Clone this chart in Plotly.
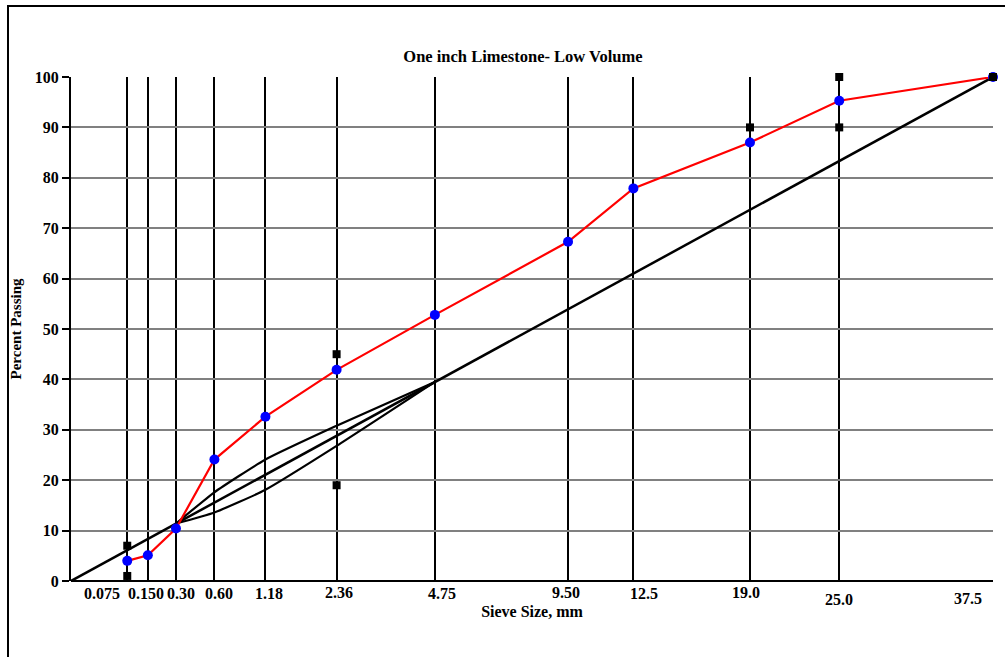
import plotly.graph_objects as go

# Sieve sizes (mm) and tick labels
sieves = [0.075, 0.15, 0.3, 0.6, 1.18, 2.36, 4.75, 9.5, 12.5, 19.0, 25.0, 37.5]
sieve_labels = ["0.075", "0.150", "0.30", "0.60", "1.18", "2.36", "4.75",
                "9.50", "12.5", "19.0", "25.0", "37.5"]

# Blend gradation, percent passing
blend_passing = [4.0, 5.1, 10.4, 24.1, 32.6, 41.9, 52.8, 67.3, 77.9, 87.0, 95.3, 100.0]

# Control points
ctrl_sieves = [0.075, 0.075, 2.36, 2.36, 19.0, 25.0, 25.0, 37.5]
ctrl_passing = [1, 7, 19, 45, 90, 90, 100, 100]

# Restricted zone boundaries
rz_sieves = [0.3, 0.6, 1.18, 2.36, 4.75]
rz_upper = [11.4, 17.6, 24.1, 30.8, 39.5]
rz_lower = [11.4, 13.6, 18.1, 26.8, 39.5]

# Maximum density line
mdl_sieves = [0.0, 37.5]
mdl_passing = [0, 100]

POWER = 0.45


def p45(vals):
    return [v ** POWER for v in vals]


# label nudges (px) for the sieve-size captions
label_dx = [-25, -2, 5, 5, 4, 2, 7, -2, 11, -4, 0, -25]
label_dy = [-2, -2, -2, -2, -2, -1, -2, -1, -2, -1, -8, -7]

BOLD = dict(family="Liberation Serif", color="black", weight="bold")

fig = go.Figure()

fig.add_trace(go.Scatter(
    x=p45(mdl_sieves), y=mdl_passing, mode="lines",
    line=dict(color="black", width=2.5), showlegend=False, hoverinfo="skip",
    cliponaxis=False))

for ys in (rz_upper, rz_lower):
    fig.add_trace(go.Scatter(
        x=p45(rz_sieves), y=ys, mode="lines",
        line=dict(color="black", width=2.2, shape="spline", smoothing=0.5),
        showlegend=False, hoverinfo="skip"))

fig.add_trace(go.Scatter(
    x=p45(sieves), y=blend_passing, mode="lines+markers",
    line=dict(color="red", width=2.2),
    marker=dict(symbol="circle", size=10, color="blue"),
    showlegend=False, cliponaxis=False))

fig.add_trace(go.Scatter(
    x=p45(ctrl_sieves), y=ctrl_passing, mode="markers",
    marker=dict(symbol="square", size=8, color="black"),
    showlegend=False, cliponaxis=False))

xmax = 37.5 ** POWER

annotations = []
for s, lab, dx, dy in zip(sieves, sieve_labels, label_dx, label_dy):
    annotations.append(dict(
        x=s ** POWER, y=0, xref="x", yref="paper", text="<b>" + lab + "</b>",
        showarrow=False, xanchor="center", yanchor="top",
        xshift=dx, yshift=dy,
        font=dict(family="Liberation Serif", size=16, color="black")))

fig.update_layout(
    width=1005, height=657,
    margin=dict(l=71, r=12, t=77, b=76),
    paper_bgcolor="white", plot_bgcolor="white",
    font=dict(family="Liberation Serif", color="black"),
    title=dict(text="<b>One inch Limestone- Low Volume</b>",
               x=(71 + 993) / 2 / 1005 - 0.009, xanchor="center",
               y=1 - 56 / 657, yanchor="middle",
               font=dict(family="Liberation Serif", size=16.5, color="black")),
    annotations=annotations,
    shapes=[dict(type="rect", xref="paper", yref="paper",
                 x0=(8 - 71) / 922, x1=(1010 - 71) / 922,
                 y0=(581 - 660) / 504, y1=(581 - 6) / 504,
                 line=dict(color="black", width=2), layer="below")],
)

fig.update_xaxes(
    range=[0, xmax], tickvals=p45(sieves), showticklabels=False,
    showgrid=True, gridcolor="black", gridwidth=1.6,
    zeroline=False, showline=False, ticks="",
    title=dict(text="<b>Sieve Size, mm</b>", standoff=24,
               font=dict(family="Liberation Serif", size=16, color="black")))

fig.update_yaxes(
    range=[0, 100], tickvals=list(range(0, 101, 10)),
    tickfont=dict(size=16, **BOLD),
    showgrid=True, gridcolor="#808080", gridwidth=1.5,
    zeroline=True, zerolinecolor="black", zerolinewidth=2,
    showline=True, linecolor="black", linewidth=2,
    ticks="outside", ticklen=7, tickcolor="black", tickwidth=1.5,
    title=dict(text="<b>Percent Passing</b>", standoff=10,
               font=dict(family="Liberation Serif", size=15, color="black")))

fig.write_html("out.html")
